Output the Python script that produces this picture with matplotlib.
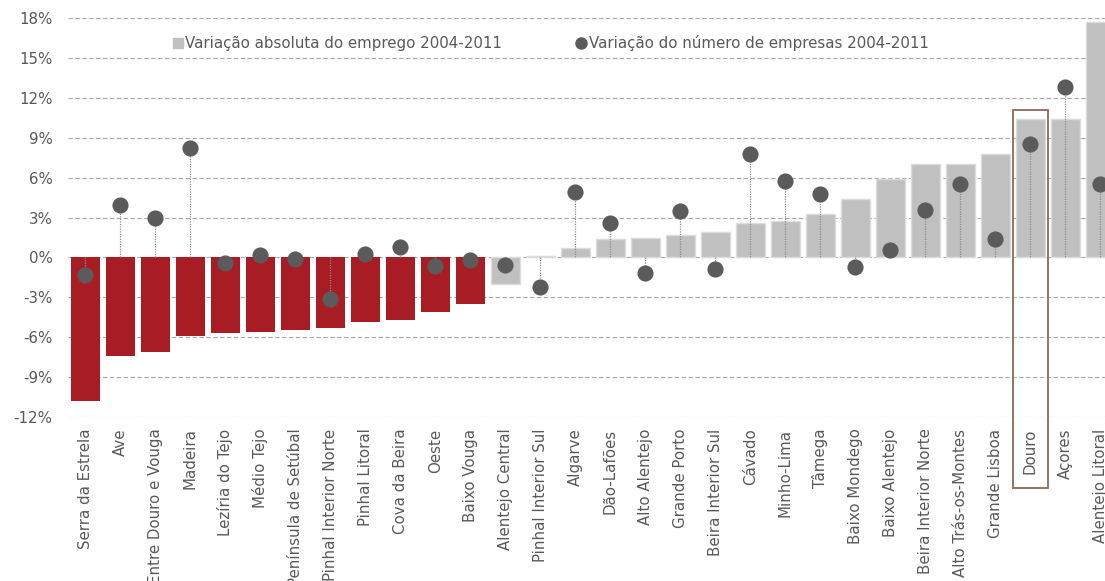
import matplotlib
matplotlib.use("Agg")
import matplotlib.pyplot as plt
from matplotlib.patches import Rectangle
from matplotlib.lines import Line2D

plt.rcParams['font.family'] = ['DejaVu Sans']

regions = [
    "Serra da Estrela", "Ave", "Entre Douro e Vouga", "Madeira", "Lezíria do Tejo",
    "Médio Tejo", "Península de Setúbal", "Pinhal Interior Norte", "Pinhal Litoral",
    "Cova da Beira", "Oeste", "Baixo Vouga", "Alentejo Central", "Pinhal Interior Sul",
    "Algarve", "Dão-Lafões", "Alto Alentejo", "Grande Porto", "Beira Interior Sul",
    "Cávado", "Minho-Lima", "Tâmega", "Baixo Mondego", "Baixo Alentejo",
    "Beira Interior Norte", "Alto Trás-os-Montes", "Grande Lisboa", "Douro", "Açores",
    "Alentejo Litoral",
]

# Absolute change in employment 2004-2011 (%)
emprego = [
    -10.8, -7.4, -7.15, -5.9, -5.7, -5.65, -5.5, -5.35, -4.85, -4.75, -4.15, -3.55,
    -2.0, 0.1, 0.7, 1.4, 1.45, 1.7, 1.9, 2.6, 2.7, 3.3, 4.4, 5.9, 7.0, 7.05, 7.8,
    10.4, 10.45, 17.75,
]

# Change in number of firms 2004-2011 (%)
empresas = [
    -1.3, 3.95, 2.95, 8.2, -0.4, 0.15, -0.15, -3.1, 0.25, 0.8, -0.65, -0.2,
    -0.55, -2.2, 4.95, 2.55, -1.15, 3.5, -0.85, 7.8, 5.75, 4.75, -0.75, 0.55,
    3.6, 5.5, 1.35, 8.5, 12.85, 5.55,
]

# Regions whose employment fell are shown in red
red_regions = set(regions[:12])
highlight = "Douro"

yticks = list(range(-12, 19, 3))
ytick_labels = [f"{v}%" for v in yticks]

RED = "#A81C24"
GREY = "#BFC0BF"
DOT = "#5A5B5A"
TEXT = "#595959"
FS = 10.8

fig = plt.figure(figsize=(11.05, 5.81), dpi=100)
ax = fig.add_axes([67.8 / 1105, 1 - 416.7 / 581, 1050 / 1105, 398.4 / 581])

x = list(range(len(regions)))
for xi, name, val in zip(x, regions, emprego):
    if name in red_regions:
        ax.bar(xi, val, width=0.82, color=RED, edgecolor=RED, linewidth=0, zorder=2)
    else:
        ax.bar(xi, val, width=0.82, color=GREY, edgecolor="#DCDCDC", linewidth=1, zorder=2)

# dotted stems from zero to each marker
for xi, v in zip(x, empresas):
    ax.plot([xi, xi], [0, v], color="#8C8C8C", lw=0.9, ls=(0, (1, 1)), zorder=3)

ax.scatter(x, empresas, s=135, color=DOT, zorder=4, linewidths=0)

ax.set_xlim(-0.5, len(regions) - 0.5)
ax.set_ylim(-12, 18)
ax.set_yticks(yticks)
ax.set_yticklabels(ytick_labels)
ax.yaxis.grid(True, color="#A8A8A8", ls=(0, (4, 2.2)), lw=0.8)
ax.set_axisbelow(True)
for sp in ax.spines.values():
    sp.set_visible(False)
ax.tick_params(axis="both", length=0, labelsize=FS, labelcolor=TEXT)
ax.tick_params(axis="y", pad=11)
ax.tick_params(axis="x", pad=8.5)
ax.set_xticks(x)
ax.set_xticklabels(regions, rotation=90)

# box framing the highlighted region, running down through its label
hi = regions.index(highlight)
box = Rectangle((hi - 0.5, -17.4), 1.0, 11.1 + 17.4, fill=False,
                edgecolor="#8B6A5C", lw=1.3, clip_on=False, zorder=5)
ax.add_patch(box)

handles = [
    Line2D([], [], marker="s", ls="none", color=GREY, markersize=6.5),
    Line2D([], [], marker="o", ls="none", color=DOT, markersize=8),
]
labels = ["Variação absoluta do emprego 2004-2011",
          "Variação do número de empresas 2004-2011"]
fig.legend(handles, labels, loc="center left", bbox_to_anchor=(164 / 1105, 1 - 43 / 581),
           ncol=2, frameon=False, fontsize=FS, labelcolor=TEXT,
           handletextpad=0.0, columnspacing=4.8, handlelength=1.0, borderaxespad=0)

fig.savefig("out.png", dpi=100)
